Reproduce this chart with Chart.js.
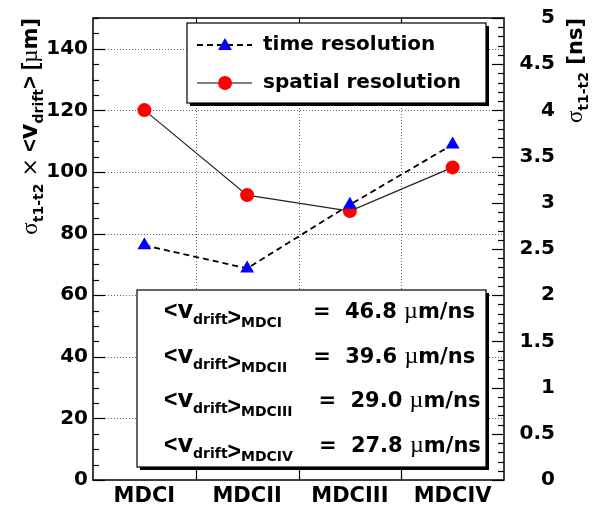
<!DOCTYPE html>
<html>
<head>
<meta charset="utf-8">
<script src="https://cdn.jsdelivr.net/npm/chart.js@4.4.1/dist/chart.umd.min.js"></script>
<style>
  html, body { margin: 0; padding: 0; background: #fff; }
  canvas { display: block; }
</style>
</head>
<body>
<canvas id="chart" width="594" height="512"></canvas>
<script>
// chambers and measured resolutions
const chambers = ['MDCI', 'MDCII', 'MDCIII', 'MDCIV'];
const timeResolution = [2.54, 2.29, 2.98, 3.63];       // ns (right axis)
const spatialResolution = [120.1, 92.5, 87.3, 101.5];  // um (left axis)
const driftVelocity = ['46.8', '39.6', '29.0', '27.8']; // um/ns
const leftTicks = [0, 20, 40, 60, 80, 100, 120, 140];
const rightTicks = [0, 0.5, 1, 1.5, 2, 2.5, 3, 3.5, 4, 4.5, 5];

const FONT = '"DejaVu Sans", "Liberation Sans", Arial, sans-serif';
const NARROW = '"Liberation Sans", Arial, sans-serif';
const SERIF = '"Liberation Serif", "DejaVu Serif", serif';

// draws a run of text pieces with own font / vertical offset, returns end x
function drawRich(ctx, parts, x, y, measureOnly) {
    let cx = x;
    for (const p of parts) {
        ctx.font = `${p.w || 'bold'} ${p.s}px ${p.f || FONT}`;
        if (!measureOnly) ctx.fillText(p.t, cx, y + (p.dy || 0));
        cx += ctx.measureText(p.t).width;
    }
    return cx;
}

function triangle(ctx, x, y, r) {
    ctx.beginPath();
    ctx.moveTo(x, y - r);
    ctx.lineTo(x + r * 0.866, y + r * 0.5);
    ctx.lineTo(x - r * 0.866, y + r * 0.5);
    ctx.closePath();
    ctx.fill();
}

function circle(ctx, x, y, r) {
    ctx.beginPath();
    ctx.arc(x, y, r, 0, Math.PI * 2);
    ctx.fill();
}

function boxWithShadow(ctx, x, y, w, h) {
    ctx.fillStyle = '#000';
    ctx.fillRect(x + 3, y + 3, w, h);
    ctx.fillStyle = '#fff';
    ctx.fillRect(x, y, w, h);
    ctx.strokeStyle = '#000';
    ctx.lineWidth = 1.2;
    ctx.strokeRect(x, y, w, h);
}

// dotted grid under the data
const gridPlugin = {
    id: 'rootGrid',
    beforeDatasetsDraw(chart) {
        const { ctx, chartArea: a, scales } = chart;
        ctx.save();
        ctx.strokeStyle = '#666';
        ctx.lineWidth = 1;
        ctx.setLineDash([1, 2]);
        leftTicks.slice(1).forEach(v => {
            const y = Math.round(scales.y.getPixelForValue(v)) + 0.5;
            ctx.beginPath(); ctx.moveTo(a.left, y); ctx.lineTo(a.right, y); ctx.stroke();
        });
        for (let i = 0; i < chambers.length - 1; i++) {
            const x = Math.round((scales.x.getPixelForValue(i) + scales.x.getPixelForValue(i + 1)) / 2) + 0.5;
            ctx.beginPath(); ctx.moveTo(x, a.top); ctx.lineTo(x, a.bottom); ctx.stroke();
        }
        ctx.restore();
    }
};

// frame, inward ticks, titles, legend and text box
const decorPlugin = {
    id: 'rootDecor',
    afterDraw(chart) {
        const { ctx, chartArea: a, scales } = chart;
        ctx.save();
        ctx.strokeStyle = '#000';
        ctx.lineWidth = 1.2;

        // left axis ticks
        for (let v = 0; v <= 150; v += 5) {
            const y = Math.round(scales.y.getPixelForValue(v)) + 0.5;
            const len = v % 20 === 0 ? 12 : 6;
            ctx.beginPath(); ctx.moveTo(a.left, y); ctx.lineTo(a.left + len, y); ctx.stroke();
        }
        // right axis ticks
        for (let k = 0; k <= 50; k++) {
            const y = Math.round(scales.yR.getPixelForValue(k / 10)) + 0.5;
            const len = k % 5 === 0 ? 12 : 6;
            ctx.beginPath(); ctx.moveTo(a.right, y); ctx.lineTo(a.right - len, y); ctx.stroke();
        }
        // x ticks at chamber boundaries
        for (let i = 0; i < chambers.length - 1; i++) {
            const x = Math.round((scales.x.getPixelForValue(i) + scales.x.getPixelForValue(i + 1)) / 2) + 0.5;
            ctx.beginPath(); ctx.moveTo(x, a.bottom); ctx.lineTo(x, a.bottom - 10); ctx.stroke();
            ctx.beginPath(); ctx.moveTo(x, a.top); ctx.lineTo(x, a.top + 10); ctx.stroke();
        }
        ctx.lineWidth = 1.5;
        ctx.strokeRect(a.left, a.top, a.right - a.left, a.bottom - a.top);

        ctx.fillStyle = '#000';
        ctx.textBaseline = 'alphabetic';
        ctx.textAlign = 'left';

        // left axis title (rotated, right aligned to frame top)
        const leftTitle = [
            { t: 'σ', s: 23, w: 'normal', f: SERIF },
            { t: 't1-t2', s: 14, dy: 6 },
            { t: ' ×', s: 22, w: 'normal', f: FONT },
            { t: ' <', s: 22, f: NARROW },
            { t: 'v', s: 24 },
            { t: 'drift', s: 14, dy: 6 },
            { t: '> [', s: 22, f: NARROW },
            { t: 'µ', s: 23, w: 'normal', f: SERIF },
            { t: 'm]', s: 21 }
        ];
        ctx.save();
        ctx.translate(37, a.top);
        ctx.rotate(-Math.PI / 2);
        let w = drawRich(ctx, leftTitle, 0, 0, true);
        drawRich(ctx, leftTitle, -w, 0);
        ctx.restore();

        // right axis title
        const rightTitle = [
            { t: 'σ', s: 23, w: 'normal', f: SERIF },
            { t: 't1-t2', s: 14, dy: 6 },
            { t: ' [ns]', s: 21 }
        ];
        ctx.save();
        ctx.translate(582, a.top);
        ctx.rotate(-Math.PI / 2);
        w = drawRich(ctx, rightTitle, 0, 0, true);
        drawRich(ctx, rightTitle, -w, 0);
        ctx.restore();

        // legend box
        boxWithShadow(ctx, 187, 23, 299, 80);
        const rows = [45, 83];
        ctx.strokeStyle = '#000';
        ctx.lineWidth = 1.8;
        ctx.setLineDash([6, 4]);
        ctx.beginPath(); ctx.moveTo(197, rows[0]); ctx.lineTo(252, rows[0]); ctx.stroke();
        ctx.setLineDash([]);
        ctx.lineWidth = 1.2;
        ctx.beginPath(); ctx.moveTo(197, rows[1]); ctx.lineTo(252, rows[1]); ctx.stroke();
        ctx.fillStyle = '#0000ff';
        triangle(ctx, 225, rows[0] + 1, 8);
        ctx.fillStyle = '#ff0000';
        circle(ctx, 225, rows[1], 7);
        ctx.fillStyle = '#000';
        ctx.font = `bold 20px ${FONT}`;
        ctx.textBaseline = 'middle';
        ctx.fillText('time resolution', 263, rows[0]);
        ctx.fillText('spatial resolution', 263, rows[1]);
        ctx.textBaseline = 'alphabetic';

        // drift velocity box
        boxWithShadow(ctx, 137, 290, 349, 177);
        ctx.fillStyle = '#000';
        chambers.forEach((name, i) => {
            const y = 318 + i * 44.7;
            const end = drawRich(ctx, [
                { t: '<', s: 23, f: NARROW },
                { t: 'v', s: 24 },
                { t: 'drift', s: 14, dy: 6 },
                { t: '>', s: 23, dy: 7, f: NARROW },
                { t: name, s: 14, dy: 9 }
            ], 164, y);
            const eqX = Math.max(313, end + 26);
            drawRich(ctx, [
                { t: '=', s: 21 }
            ], eqX, y);
            drawRich(ctx, [
                { t: driftVelocity[i] + ' ', s: 21 },
                { t: 'µ', s: 24, w: 'normal', f: SERIF },
                { t: 'm/ns', s: 21 }
            ], eqX + 32, y);
        });
        ctx.restore();
    }
};

new Chart(document.getElementById('chart'), {
    type: 'line',
    data: {
        labels: chambers,
        datasets: [
            {
                label: 'time resolution',
                data: timeResolution,
                yAxisID: 'yR',
                borderColor: '#000',
                borderWidth: 1.8,
                borderDash: [6, 4],
                pointStyle: 'triangle',
                pointRadius: 8,
                pointBackgroundColor: '#0000ff',
                pointBorderColor: '#0000ff',
                pointBorderWidth: 0,
                tension: 0
            },
            {
                label: 'spatial resolution',
                data: spatialResolution,
                yAxisID: 'y',
                borderColor: '#222',
                borderWidth: 1.2,
                pointStyle: 'circle',
                pointRadius: 7,
                pointBackgroundColor: '#ff0000',
                pointBorderColor: '#ff0000',
                pointBorderWidth: 0,
                tension: 0
            }
        ]
    },
    options: {
        responsive: false,
        animation: false,
        devicePixelRatio: 1,
        layout: { padding: { top: 18, left: 0, right: 39, bottom: 0 } },
        plugins: { legend: { display: false }, tooltip: { enabled: false } },
        scales: {
            x: {
                offset: true,
                grid: { display: false, drawTicks: false },
                border: { display: false },
                ticks: { color: '#000', font: { family: FONT, size: 21, weight: 'bold' }, padding: 4 },
                afterFit: s => { s.height = 32; }
            },
            y: {
                position: 'left',
                min: 0,
                max: 150,
                grid: { display: false, drawTicks: false },
                border: { display: false },
                afterBuildTicks: s => { s.ticks = leftTicks.map(v => ({ value: v })); },
                ticks: { color: '#000', font: { family: FONT, size: 20, weight: 'bold' }, padding: 5, callback: v => String(v) },
                afterFit: s => { s.width = 93; }
            },
            yR: {
                position: 'right',
                min: 0,
                max: 5,
                grid: { display: false, drawTicks: false },
                border: { display: false },
                afterBuildTicks: s => { s.ticks = rightTicks.map(v => ({ value: v })); },
                ticks: { color: '#000', font: { family: FONT, size: 20, weight: 'bold' }, crossAlign: 'far', callback: v => String(v) },
                afterFit: s => { s.width = 51; }
            }
        }
    },
    plugins: [gridPlugin, decorPlugin]
});
</script>
</body>
</html>
